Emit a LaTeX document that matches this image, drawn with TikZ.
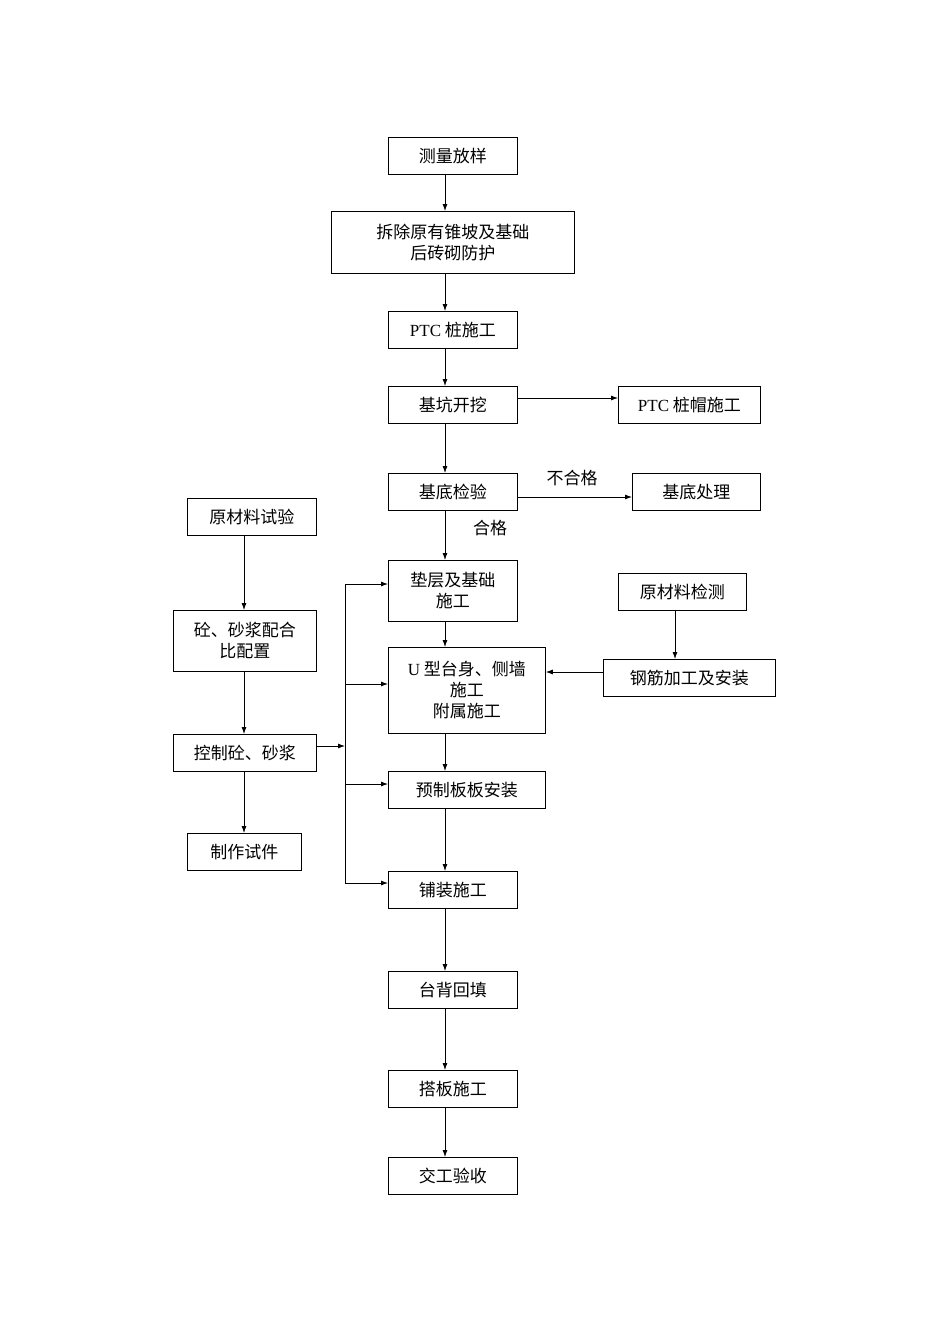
\documentclass[tikz,border=0pt]{standalone}
\usepackage{fontspec}
\setmainfont{Liberation Serif}
\newfontfamily\cjk{Noto Sans CJK SC}
\usetikzlibrary{arrows.meta}
\begin{document}
\begin{tikzpicture}[x=1pt,y=-1pt,
  bx/.style={draw,line width=0.8pt,inner sep=0pt,anchor=north west,align=center,font=\fontsize{17}{21}\selectfont\cjk},
  ar/.style={-{Latex[length=7pt,width=5pt]},line width=0.8pt},
  ln/.style={line width=0.8pt}]
\useasboundingbox (0,0) rectangle (950,1344);
\newcommand\bb[6]{\node[bx,minimum width=#4-#2,minimum height=#5-#3] (#1) at (#2,#3) {#6};}
\bb{a}{388}{137}{517}{174}{测量放样}
\bb{b}{331}{211}{574}{273}{拆除原有锥坡及基础\\后砖砌防护}
\bb{c}{388}{311}{517}{348}{{\rmfamily PTC} 桩施工}
\bb{d}{388}{386}{517}{423}{基坑开挖}
\bb{e}{618}{386}{760}{423}{{\rmfamily PTC} 桩帽施工}
\bb{f}{388}{473}{517}{510}{基底检验}
\bb{g}{632}{473}{760}{510}{基底处理}
\bb{h}{388}{560}{517}{621}{垫层及基础\\施工}
\bb{i}{388}{647}{545}{733}{{\rmfamily U} 型台身、侧墙\\施工\\附属施工}
\bb{j}{388}{771}{545}{808}{预制板板安装}
\bb{k}{388}{871}{517}{908}{铺装施工}
\bb{l}{388}{971}{517}{1008}{台背回填}
\bb{m}{388}{1070}{517}{1107}{搭板施工}
\bb{n}{388}{1157}{517}{1194}{交工验收}
\bb{p}{187}{498}{316}{535}{原材料试验}
\bb{q}{173}{610}{316}{671}{砼、砂浆配合\\比配置}
\bb{r}{173}{734}{316}{771}{控制砼、砂浆}
\bb{s}{187}{833}{301}{870}{制作试件}
\bb{t}{618}{573}{746}{610}{原材料检测}
\bb{u}{603}{659}{775}{696}{钢筋加工及安装}
\node[font=\fontsize{17}{21}\selectfont\cjk] (bh) at (572,478) {不合格};
\node[font=\fontsize{17}{21}\selectfont\cjk] (hg) at (490,528) {合格};
\foreach \s/\e in {a/b,b/c,c/d,d/f,f/h,h/i,i/j,j/k,k/l,l/m,m/n}
  \draw[ar] (\s.south -| 445,0) -- (\e.north -| 445,0);
\foreach \s/\e in {p/q,q/r,r/s}
  \draw[ar] (\s.south -| 244,0) -- (\e.north -| 244,0);
\draw[ar] (t.south -| 675,0) -- (u.north -| 675,0);
\draw[ar] (d.east |- 0,398) -- (e.west |- 0,398);
\draw[ar] (f.east |- 0,497) -- (g.west |- 0,497);
\draw[ar] (u.west |- 0,672) -- (i.east |- 0,672);
\coordinate (bt) at (345,584);
\coordinate (bb) at (345,883);
\draw[ar] (r.east |- 0,746) -- (345,746);
\draw[ln] (bt) -- (bb);
\draw[ar] (bt) -- (h.west |- bt);
\draw[ar] (345,684) -- (i.west |- 0,684);
\draw[ar] (345,784) -- (j.west |- 0,784);
\draw[ar] (bb) -- (k.west |- bb);
\end{tikzpicture}
\end{document}
